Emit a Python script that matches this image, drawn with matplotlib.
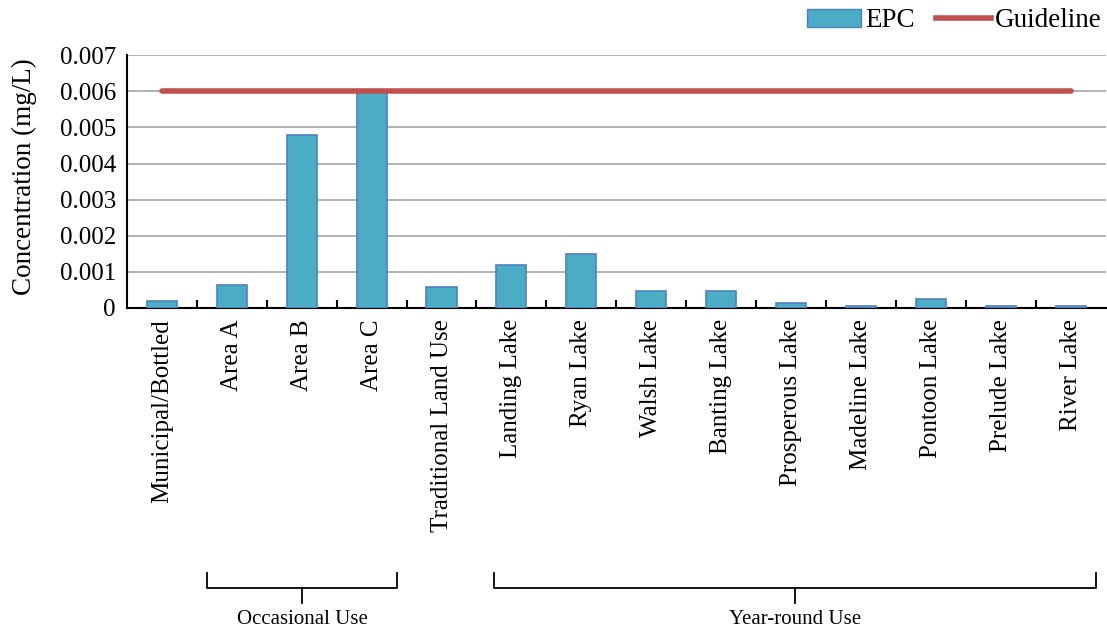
import matplotlib

matplotlib.use("Agg")
import matplotlib.pyplot as plt
import matplotlib.transforms as mtransforms
from matplotlib.patches import Patch
from matplotlib.lines import Line2D

plt.rcParams["font.family"] = ["Liberation Serif", "DejaVu Serif"]

categories = [
    "Municipal/Bottled", "Area A", "Area B", "Area C", "Traditional Land Use",
    "Landing Lake", "Ryan Lake", "Walsh Lake", "Banting Lake", "Prosperous Lake",
    "Madeline Lake", "Pontoon Lake", "Prelude Lake", "River Lake",
]
epc = [0.0002, 0.00064, 0.0048, 0.006, 0.00058,
       0.0012, 0.0015, 0.00047, 0.00047, 0.00015,
       0.00005, 0.00026, 0.00005, 0.00005]
guideline = [0.006] * len(categories)

# (label, first category idx, last category idx)
groups = [("Occasional Use", 1, 3), ("Year-round Use", 5, 13)]

BAR = "#4BACC6"
EDGE = "#4F81BD"
RED = "#C0504D"

fig = plt.figure(figsize=(11.07, 6.35), dpi=100)
ax = fig.add_axes([0.1147, 0.515, 0.884, 0.398])

x = list(range(len(categories)))
ax.bar(x, epc, width=0.43, color=BAR, edgecolor=EDGE, linewidth=1.2, zorder=3)
ax.plot(x, guideline, color=RED, lw=4, solid_capstyle="round", zorder=4)

ax.set_xlim(-0.5, len(categories) - 0.5)
ax.set_ylim(0, 0.007)
ax.set_yticks([i / 1000 for i in range(8)])
ax.set_yticklabels(["0"] + [f"{i / 1000:.3f}" for i in range(1, 8)], fontsize=18)
ax.yaxis.grid(True, color="#A6A6A6", lw=1.2, zorder=0)
ax.tick_params(axis="y", length=0, pad=8)

ax.set_xticks(x)
ax.set_xticklabels(categories, rotation=90, fontsize=18)
ax.tick_params(axis="x", which="major", length=0, pad=8)
ax.set_xticks([i + 0.5 for i in x[:-1]], minor=True)
ax.tick_params(axis="x", which="minor", direction="in", length=6, width=1.5)

for s in ["top", "right"]:
    ax.spines[s].set_visible(False)
ax.spines["left"].set_linewidth(1.5)
ax.spines["bottom"].set_linewidth(1.5)

ax.set_ylabel("Concentration (mg/L)", fontsize=19.5)
ax.yaxis.set_label_coords(-0.092, 0.52)

# group brackets below the category labels
trans = mtransforms.blended_transform_factory(ax.transData, fig.transFigure)
y_top, y_mid, y_tip = 1 - 573 / 635, 1 - 588 / 635, 1 - 603 / 635
for label, i0, i1 in groups:
    x0, x1 = i0 - 0.25, i1 + 0.37
    if i0 == 1:
        x0 = i0 - 0.36
    xm = (x0 + x1) / 2
    kw = dict(transform=trans, color="black", lw=1.3, clip_on=False)
    ax.add_line(Line2D([x0, x0, x1, x1], [y_top, y_mid, y_mid, y_top], **kw))
    ax.add_line(Line2D([xm, xm], [y_mid, y_tip], **kw))
    ax.text(xm, 1 - 620 / 635, label, transform=trans, ha="center", va="center",
            fontsize=15)

handles = [
    Patch(facecolor=BAR, edgecolor=EDGE, label="EPC"),
    Line2D([0], [0], color=RED, lw=4, label="Guideline"),
]
fig.legend(handles=handles, loc="upper right", bbox_to_anchor=(1.017, 1.025),
           ncol=2, frameon=False, fontsize=19.5, handlelength=2.0,
           handletextpad=0.15, columnspacing=0.8)

fig.savefig("out.png", dpi=100)
